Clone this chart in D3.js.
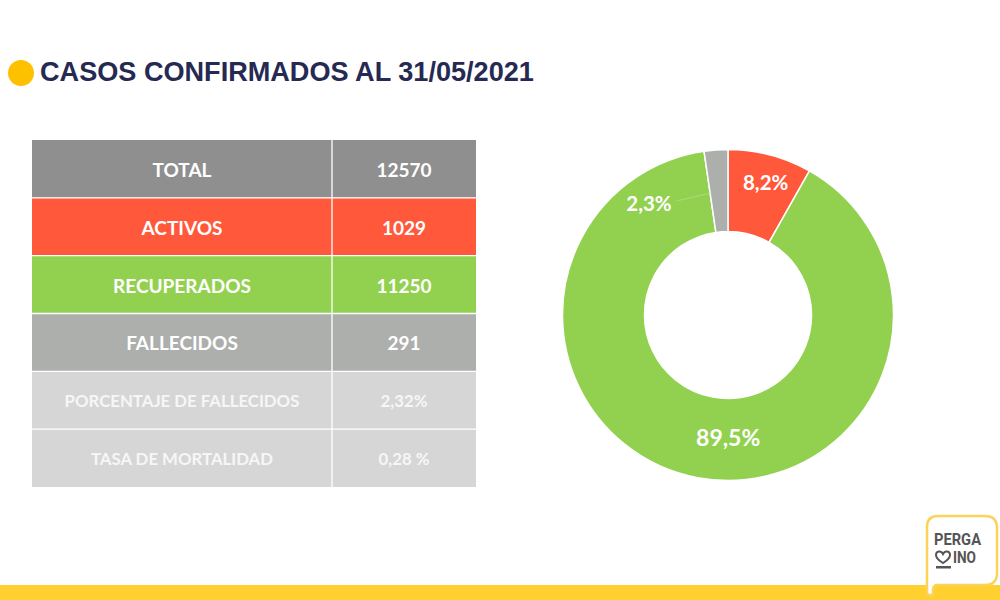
<!DOCTYPE html>
<html>
<head>
<meta charset="utf-8">
<script src="https://cdn.jsdelivr.net/npm/d3@7"></script>
<style>
  html, body { margin: 0; padding: 0; background: #fff; }
  svg { display: block; }
</style>
</head>
<body>
<div id="chart"></div>
<script>
var title = "CASOS CONFIRMADOS AL 31/05/2021";

// table
var rowLabels = ["TOTAL", "ACTIVOS", "RECUPERADOS", "FALLECIDOS", "PORCENTAJE DE FALLECIDOS", "TASA DE MORTALIDAD"];
var rowValues = ["12570", "1029", "11250", "291", "2,32%", "0,28 %"];

// donut
var sliceValues = [1029, 11250, 291];
var sliceLabels = ["8,2%", "89,5%", "2,3%"];

var w = 1000;
var h = 600;

var rowColors = ["#8f8f8f", "#ff583b", "#92d14f", "#adafad", "#d6d6d6", "#d6d6d6"];
var rowText = ["#fff", "#fff", "#fff", "#fff", "#f6f6f6", "#f6f6f6"];
var sliceColors = ["#ff583b", "#92d14f", "#adafad"];
var labelDx = [6, 23, -70];
var labelDy = [-12, 1, 13];
var labelSize = [20.5, 23, 20.5];

var svg = d3.select("#chart")
  .append("svg")
  .attr("width", w)
  .attr("height", h)
  .attr("viewBox", "0 0 " + w + " " + h);

// title
svg.append("circle")
  .attr("cx", 21)
  .attr("cy", 73)
  .attr("r", 13)
  .attr("fill", "#ffc000");

svg.append("text")
  .attr("x", 40)
  .attr("y", 81)
  .attr("font-family", "Liberation Sans")
  .attr("font-weight", 700)
  .attr("font-size", 27.1)
  .attr("fill", "#262a52")
  .text(title);

// table
var y = d3.scaleBand()
  .domain(rowLabels)
  .range([140, 487]);

var colEdges = [32, 332, 476];

var rows = svg.selectAll("g.row")
  .data(rowLabels)
  .enter()
  .append("g")
  .attr("class", "row")
  .attr("transform", function(d) { return "translate(0," + y(d) + ")"; });

rows.append("rect")
  .attr("x", colEdges[0])
  .attr("width", colEdges[2] - colEdges[0])
  .attr("height", y.bandwidth())
  .attr("fill", function(d, i) { return rowColors[i]; });

rows.append("text")
  .attr("x", (colEdges[0] + colEdges[1]) / 2)
  .attr("y", function(d, i) { return y.bandwidth() / 2 + (i < 4 ? 8 : 6.5); })
  .attr("text-anchor", "middle")
  .attr("font-family", "Lato")
  .attr("font-weight", 700)
  .attr("font-size", function(d, i) { return i < 4 ? 19 : 16.8; })
  .attr("fill", function(d, i) { return rowText[i]; })
  .text(function(d) { return d; });

rows.append("text")
  .attr("x", (colEdges[1] + colEdges[2]) / 2)
  .attr("y", function(d, i) { return y.bandwidth() / 2 + (i < 4 ? 8 : 6.5); })
  .attr("text-anchor", "middle")
  .attr("font-family", "Lato")
  .attr("font-weight", 700)
  .attr("font-size", function(d, i) { return i < 4 ? 19 : 16.8; })
  .attr("fill", function(d, i) { return rowText[i]; })
  .text(function(d, i) { return rowValues[i]; });

// white rules between the cells
svg.selectAll("line.rule")
  .data(rowLabels.slice(1))
  .enter()
  .append("line")
  .attr("class", "rule")
  .attr("x1", colEdges[0])
  .attr("x2", colEdges[2])
  .attr("y1", function(d) { return y(d); })
  .attr("y2", function(d) { return y(d); })
  .attr("stroke", "#fff")
  .attr("stroke-width", 1.3);

svg.append("line")
  .attr("x1", colEdges[1])
  .attr("x2", colEdges[1])
  .attr("y1", 140)
  .attr("y2", 487)
  .attr("stroke", "#fff")
  .attr("stroke-width", 1.3);

// donut
var pie = d3.pie().sort(null);
var arc = d3.arc().innerRadius(83.5).outerRadius(165.5);

var donut = svg.append("g")
  .attr("transform", "translate(728,315)");

var slices = pie(sliceValues);

donut.selectAll("path.slice")
  .data(slices)
  .enter()
  .append("path")
  .attr("class", "slice")
  .attr("d", arc)
  .attr("fill", function(d, i) { return sliceColors[i]; })
  .attr("stroke", "#fff")
  .attr("stroke-width", 1.5);

// leader of the small slice, from its label to the slice
var small = arc.centroid(slices[2]);
donut.append("line")
  .attr("x1", small[0] + labelDx[2] + 28)
  .attr("y1", small[1] + labelDy[2] - 3)
  .attr("x2", small[0] - 7)
  .attr("y2", small[1] + 2)
  .attr("stroke", "#b5d896")
  .attr("stroke-width", 0.8);

donut.selectAll("text")
  .data(slices)
  .enter()
  .append("text")
  .attr("transform", function(d, i) {
    var c = arc.centroid(d);
    return "translate(" + (c[0] + labelDx[i]) + "," + (c[1] + labelDy[i]) + ")";
  })
  .attr("text-anchor", "middle")
  .attr("dy", "0.35em")
  .attr("font-family", "Lato")
  .attr("font-weight", 700)
  .attr("font-size", function(d, i) { return labelSize[i]; })
  .attr("fill", "#fff")
  .text(function(d, i) { return sliceLabels[i]; });

// bottom band
svg.append("rect")
  .attr("x", 0)
  .attr("y", 585)
  .attr("width", w)
  .attr("height", 15)
  .attr("fill", "#ffd02f");

// logo
var logo = svg.append("g");

logo.append("path")
  .attr("d", "M938,516H985Q997,516 997,528V573Q997,585 985,585H937Q934,585 933,589V595H929Q927,595 927,592V527Q927,516 938,516Z")
  .attr("fill", "#fff")
  .attr("stroke", "#fbd35a")
  .attr("stroke-width", 2.5);

logo.append("text")
  .attr("x", 934)
  .attr("y", 545)
  .attr("font-family", "Roboto")
  .attr("font-weight", 700)
  .attr("font-size", 16.5)
  .attr("textLength", 47)
  .attr("lengthAdjust", "spacingAndGlyphs")
  .attr("fill", "#555")
  .text("PERGA");

logo.append("text")
  .attr("x", 953)
  .attr("y", 563)
  .attr("font-family", "Roboto")
  .attr("font-weight", 700)
  .attr("font-size", 16.5)
  .attr("textLength", 23)
  .attr("lengthAdjust", "spacingAndGlyphs")
  .attr("fill", "#555")
  .text("INO");

logo.append("path")
  .attr("d", "M943,554C941,550 936,551 936,555C936,559 940,561 943,563C946,561 950,559 950,555C950,551 945,550 943,554Z")
  .attr("fill", "none")
  .attr("stroke", "#555")
  .attr("stroke-width", 2);

logo.append("rect")
  .attr("x", 936)
  .attr("y", 566)
  .attr("width", 15)
  .attr("height", 2.5)
  .attr("fill", "#555");
</script>
</body>
</html>
